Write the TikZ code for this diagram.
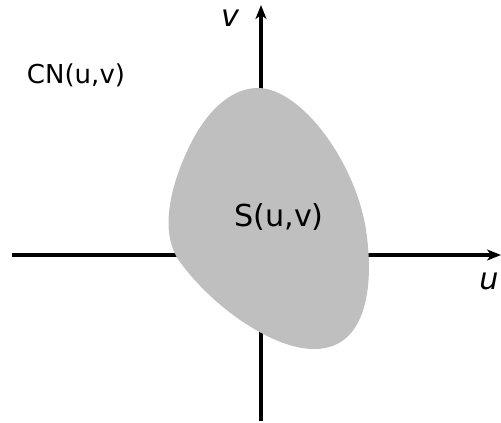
\documentclass[tikz,border=0pt]{standalone}
\usepackage{fontspec}
\setmainfont{DejaVu Sans}
\usetikzlibrary{arrows.meta, positioning}
\definecolor{regiongray}{RGB}{191, 191, 191}
\tikzset{
  axisline/.style={line width=1pt, -{Stealth[length=1.4mm, width=1.1mm, inset=0.4mm]}},
  lbl/.style={font=\fontsize{7.4}{8}\selectfont, inner sep=0pt},
  biglbl/.style={lbl, font=\fontsize{8.6}{9}\selectfont},
  axislbl/.style={lbl, font=\fontsize{8.6}{9}\selectfont\itshape}
}

\begin{document}
\begin{tikzpicture}[x=0.01cm, y=-0.01cm]
  \useasboundingbox (0,0) rectangle (501,422);
  \coordinate (uStart) at (12,255);
  \coordinate (uEnd) at (501,255);
  \coordinate (vStart) at (261,421);
  \coordinate (vEnd) at (261,5);
  \draw[axisline] (uStart) -- (uEnd);
  \draw[axisline] (vStart) -- (vEnd);
  \fill[regiongray] (258,88) .. controls (300,88) and (355,160) .. (366,230)
    .. controls (375,290) and (365,350) .. (313,349)
    .. controls (275,349) and (215,310) .. (180,262)
    .. controls (160,235) and (168,190) .. (190,145)
    .. controls (210,105) and (235,88) .. (258,88) -- cycle;
  \node[axislbl] (uLabel) at (489,281) {u};
  \node[axislbl] (vLabel) at (230,18) {v};
  \node[lbl] (cnLabel) at (76,75) {CN(u,v)};
  \node[biglbl] (sLabel) at (279,217) {S(u,v)};
\end{tikzpicture}
\end{document}
